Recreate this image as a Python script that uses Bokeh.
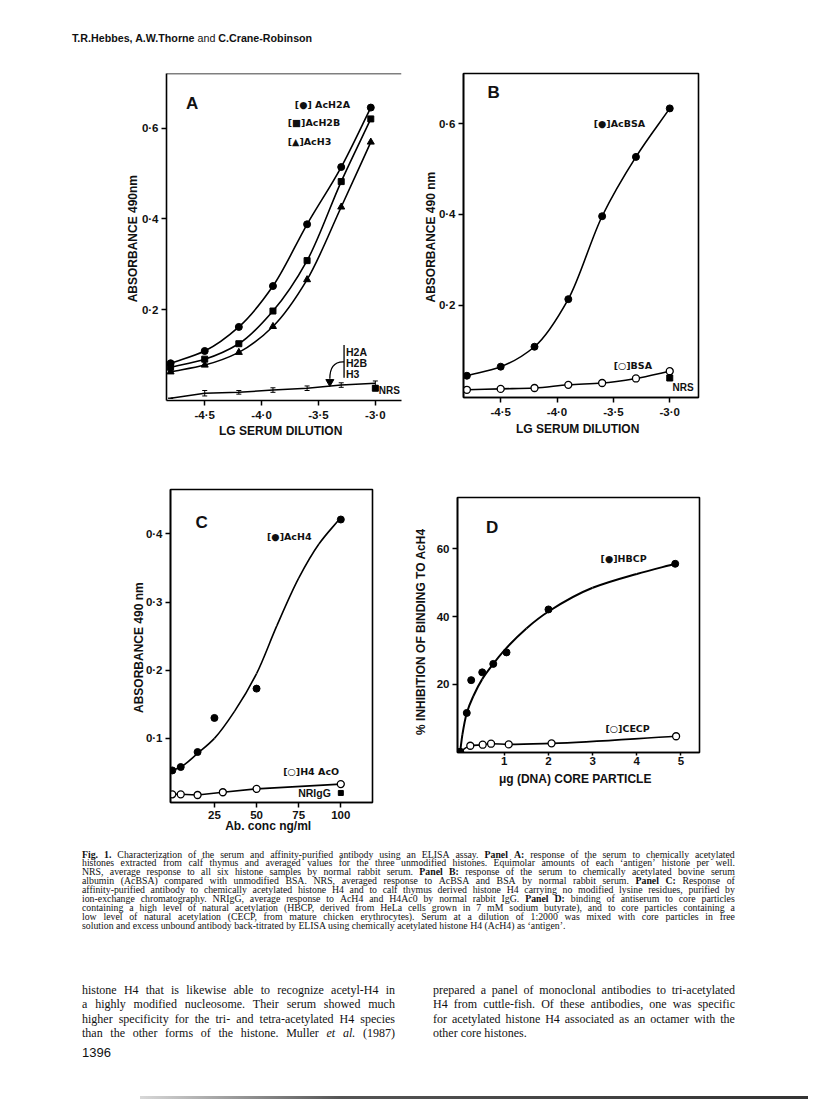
import numpy as np
from html import escape
from bokeh.plotting import figure
from bokeh.models import (FixedTicker, Div, Whisker, TeeHead, ColumnDataSource,
                          Span, CustomJSTickFormatter, Spacer)
from bokeh.layouts import column, row
from bokeh.embed import file_html
from bokeh.resources import INLINE
from bokeh.core.properties import value

FONT = "Liberation Sans"
SYMFONT = "DejaVu Sans"

# ---------------- Panel A : ELISA, serum vs acetylated histones ----------------
a_dilution = [-4.8, -4.5, -4.2, -3.9, -3.6, -3.3, -3.04]
a_ach2a = [0.082, 0.109, 0.162, 0.252, 0.388, 0.514, 0.645]
a_ach2b = [0.073, 0.091, 0.125, 0.197, 0.308, 0.482, 0.620]
a_ach3 = [0.063, 0.078, 0.106, 0.163, 0.266, 0.426, 0.569]
a_unmod_dilution = [-4.8, -4.5, -4.2, -3.9, -3.6, -3.3, -3.0]
a_unmod = [0.005, 0.016, 0.018, 0.023, 0.027, 0.034, 0.038]
a_unmod_err = [0.0, 0.006, 0.004, 0.005, 0.005, 0.005, 0.005]
a_nrs_x = [-3.0]
a_nrs_y = [0.027]
a_xticks = [-4.5, -4.0, -3.5, -3.0]
a_yticks = [0.2, 0.4, 0.6]
a_series_labels = ["[●] AcH2A", "[■]AcH2B", "[▲]AcH3"]
a_unmod_labels = ["H2A", "H2B", "H3"]

# ---------------- Panel B : serum vs acetylated BSA ----------------
b_dilution = [-4.8, -4.5, -4.2, -3.9, -3.6, -3.3, -3.0]
b_acbsa = [0.044, 0.064, 0.108, 0.213, 0.396, 0.527, 0.634]
b_bsa = [0.013, 0.015, 0.017, 0.024, 0.028, 0.038, 0.054]
b_nrs_x = [-3.0]
b_nrs_y = [0.039]
b_xticks = [-4.5, -4.0, -3.5, -3.0]
b_yticks = [0.2, 0.4, 0.6]

# ---------------- Panel C : affinity-purified antibody ----------------
c_conc = [0, 5, 15, 25, 50, 100]
c_ach4 = [0.053, 0.058, 0.080, 0.130, 0.173, 0.421]
c_fit_conc = [0, 5, 15, 25, 37, 50, 62, 75, 87, 99]
c_fit_ach4 = [0.053, 0.058, 0.078, 0.100, 0.140, 0.195, 0.265, 0.335, 0.385, 0.421]
c_h4_conc = [0, 5, 15, 30, 50, 100]
c_h4ac0 = [0.018, 0.018, 0.017, 0.021, 0.026, 0.033]
c_nrigg_x = [100]
c_nrigg_y = [0.020]
c_xticks = [25, 50, 75, 100]
c_yticks = [0.1, 0.2, 0.3, 0.4]

# ---------------- Panel D : inhibition by core particles ----------------
d_dna = [0, 0.15, 0.25, 0.5, 0.75, 1.05, 2.0, 4.87]
d_hbcp = [0, 11.5, 21.2, 23.5, 26.0, 29.4, 42.1, 55.6]
d_fit_dna = [0, 0.05, 0.15, 0.3, 0.5, 0.75, 1.0, 1.5, 2.0, 3.0, 4.0, 4.87]
d_fit_hbcp = [0, 5.0, 11.5, 16.5, 21.5, 26.0, 30.0, 36.5, 41.5, 48.5, 52.6, 55.6]
d_cecp_dna = [0, 0.23, 0.51, 0.70, 1.1, 2.07, 4.89]
d_cecp = [0, 1.8, 2.1, 2.4, 2.2, 2.5, 4.6]
d_xticks = [1, 2, 3, 4, 5]
d_yticks = [20, 40, 60]


def smooth(p, xs, ys, **kw):
    """Draw a smooth curve through the given knots with Bokeh bezier segments."""
    xs = np.asarray(xs, float)
    ys = np.asarray(ys, float)
    h = np.diff(xs)
    d = np.diff(ys) / h
    n = len(xs)
    m = np.zeros(n)
    m[0], m[-1] = d[0], d[-1]
    for i in range(1, n - 1):
        if d[i - 1] * d[i] <= 0:
            m[i] = 0.0
        else:
            w1 = 2 * h[i] + h[i - 1]
            w2 = h[i] + 2 * h[i - 1]
            m[i] = (w1 + w2) / (w1 / d[i - 1] + w2 / d[i])
    p.bezier(x0=xs[:-1], y0=ys[:-1], x1=xs[1:], y1=ys[1:],
             cx0=xs[:-1] + h / 3, cy0=ys[:-1] + m[:-1] * h / 3,
             cx1=xs[1:] - h / 3, cy1=ys[1:] - m[1:] * h / 3,
             line_color="black", **kw)


DOT = CustomJSTickFormatter(code="return tick.toFixed(1).replace('.', '\u00b7');")


def make_fig(xr, yr, fw, fh, bl, br, bt, bb, xticks, yticks, xlabel, ylabel,
             xdot=False, ydot=False, outline=True, xstand=0, ystand=0,
             xlabel_size="12px", ylabel_size="12px"):
    p = figure(title=None, x_range=xr, y_range=yr, frame_width=fw, frame_height=fh,
               min_border_left=bl, min_border_right=br, min_border_top=bt,
               min_border_bottom=bb, output_backend="svg", toolbar_location=None,
               background_fill_color="white", border_fill_color="white")
    p.grid.visible = False
    if outline:
        p.outline_line_color = "black"
        p.outline_line_width = 1.6
        p.outline_line_alpha = 1.0
    else:
        p.outline_line_color = None
    p.xaxis.ticker = FixedTicker(ticks=xticks)
    p.yaxis.ticker = FixedTicker(ticks=yticks)
    if xdot:
        p.xaxis.formatter = DOT
    if ydot:
        p.yaxis.formatter = DOT
    for ax in (p.xaxis[0], p.yaxis[0]):
        ax.axis_line_width = 1.6
        ax.major_tick_in = 0
        ax.major_tick_out = 5
        ax.major_tick_line_width = 1.5
        ax.minor_tick_line_color = None
        ax.major_label_text_font = FONT
        ax.major_label_text_font_style = "bold"
        ax.major_label_text_font_size = "11.5px"
        ax.major_label_text_color = "#111"
        ax.major_label_standoff = 3
        ax.axis_label_text_font = FONT
        ax.axis_label_text_font_style = "bold"
        ax.axis_label_text_color = "#111"
    p.xaxis.axis_label_text_font_size = xlabel_size
    p.yaxis.axis_label_text_font_size = ylabel_size
    p.xaxis.axis_label = xlabel
    p.yaxis.axis_label = ylabel
    p.xaxis.axis_label_standoff = xstand
    p.yaxis.axis_label_standoff = ystand
    return p


def label(p, x, y, txt, size="10.5px", align="left", font=FONT):
    p.text(x=[x], y=[y], text=[txt], text_font=value(font), text_font_style="bold",
           text_font_size=size, text_baseline="middle", text_align=align, text_color="#111")


def symlabel(p, x, y, txt):
    label(p, x, y, txt, size="9.5px", font=SYMFONT)


# ---------------- Panel A figure ----------------
pa = make_fig((-4.836, -2.77), (0.0, 0.72), 235, 327, 166, 7, 16, 79,
              a_xticks, a_yticks, "LG  SERUM  DILUTION", "ABSORBANCE  490nm",
              xdot=True, ydot=True, outline=False, xstand=0, ystand=-1)
pa.add_layout(Span(location=0.72, dimension="width", line_color="black", line_width=1.6))
smooth(pa, a_dilution, a_ach2a, line_width=1.6)
smooth(pa, a_dilution, a_ach2b, line_width=1.6)
smooth(pa, a_dilution, a_ach3, line_width=1.6)
pa.scatter(a_dilution, a_ach2a, marker="circle", size=7, color="black")
pa.scatter(a_dilution, a_ach2b, marker="square", size=6, color="black")
pa.scatter(a_dilution, a_ach3, marker="triangle", size=7, color="black")
pa.line(a_unmod_dilution, a_unmod, line_color="black", line_width=1.6)
src_err = ColumnDataSource(dict(
    x=a_unmod_dilution,
    upper=[v + e for v, e in zip(a_unmod, a_unmod_err)],
    lower=[v - e for v, e in zip(a_unmod, a_unmod_err)]))
pa.add_layout(Whisker(source=src_err, base="x", upper="upper", lower="lower",
                      line_color="black", line_width=1,
                      upper_head=TeeHead(size=5, line_width=1, line_color="black"),
                      lower_head=TeeHead(size=5, line_width=1, line_color="black")))
pa.scatter(a_nrs_x, a_nrs_y, marker="square", size=6, color="black")
label(pa, -2.969, 0.022, "NRS", size="10px")
label(pa, -4.664, 0.654, "A", size="17px")
symlabel(pa, -3.708, 0.652, a_series_labels[0])
symlabel(pa, -3.77, 0.612, a_series_labels[1])
symlabel(pa, -3.77, 0.571, a_series_labels[2])
# bracket + arrow for the unmodified histones
pa.segment(x0=[-3.275], y0=[0.122], x1=[-3.275], y1=[0.050], line_color="black", line_width=1.3)
for txt, yy in zip(a_unmod_labels, [0.107, 0.082, 0.058]):
    label(pa, -3.258, yy, txt)
pa.bezier(x0=[-3.275], y0=[0.085], cx0=[-3.37], cy0=[0.086], cx1=[-3.40], cy1=[0.070],
          x1=[-3.40], y1=[0.048], line_color="black", line_width=1.3)
pa.scatter([-3.40], [0.041], marker="inverted_triangle", size=8, color="black")

# ---------------- Panel B figure ----------------
pb = make_fig((-4.83, -2.745), (-0.004, 0.711), 235, 324, 55, 10, 17, 81,
              b_xticks, b_yticks, "LG  SERUM  DILUTION", "ABSORBANCE  490 nm",
              xdot=True, ydot=True, xstand=1, ystand=-2)
smooth(pb, b_dilution, b_acbsa, line_width=1.6)
smooth(pb, b_dilution, b_bsa, line_width=1.6)
pb.scatter(b_dilution, b_acbsa, marker="circle", size=7, color="black")
pb.scatter(b_dilution, b_bsa, marker="circle", size=7, fill_color="white",
           line_color="black", line_width=1.3)
pb.scatter(b_nrs_x, b_nrs_y, marker="square", size=6, color="black")
label(pb, -4.618, 0.6696, "B", size="17px")
symlabel(pb, -3.675, 0.601, "[●]AcBSA")
symlabel(pb, -3.498, 0.066, "[○]BSA")
label(pb, -2.976, 0.018, "NRS", size="10px")

# ---------------- Panel C figure ----------------
pc = make_fig((-1.07, 118.8), (0.006, 0.465), 202, 313, 170, 35, 11, 44,
              c_xticks, c_yticks, "Ab. conc   ng/ml", "ABSORBANCE  490 nm",
              ydot=True, xstand=-3, ystand=-3)
smooth(pc, c_fit_conc, c_fit_ach4, line_width=1.6)
pc.scatter(c_conc, c_ach4, marker="circle", size=7, color="black")
pc.line(c_h4_conc, c_h4ac0, line_color="black", line_width=1.6)
pc.scatter(c_h4_conc, c_h4ac0, marker="circle", size=7, fill_color="white",
           line_color="black", line_width=1.3)
pc.scatter(c_nrigg_x, c_nrigg_y, marker="square", size=5, color="black")
label(pc, 13.7, 0.417, "C", size="17px")
symlabel(pc, 56.2, 0.396, "[●]AcH4")
symlabel(pc, 65.8, 0.0515, "[○]H4 AcO")
label(pc, 74.7, 0.020, "NRIgG")

# ---------------- Panel D figure ----------------
pd_ = make_fig((-0.06, 5.42), (-0.2, 75.2), 242, 255, 50, 20, 11, 94,
               d_xticks, d_yticks, "μg (DNA)  CORE  PARTICLE",
               "% INHIBITION  OF  BINDING  TO  AcH4", xstand=4, ystand=6)
pd_.xaxis.major_tick_out = 3
pd_.xaxis.major_label_standoff = 1
smooth(pd_, d_fit_dna, d_fit_hbcp, line_width=2)
smooth(pd_, d_cecp_dna, d_cecp, line_width=1.6)
pd_.scatter(d_dna, d_hbcp, marker="circle", size=7, color="black")
pd_.scatter(d_cecp_dna[1:], d_cecp[1:], marker="circle", size=7, fill_color="white",
            line_color="black", line_width=1.3)
pd_.scatter(d_cecp_dna[:1], d_cecp[:1], marker="circle", size=7, color="black")
label(pd_, 0.586, 66.4, "D", size="17px")
symlabel(pd_, 3.18, 57.1, "[●]HBCP")
symlabel(pd_, 3.29, 6.85, "[○]CECP")

# ---------------- page texts ----------------
header = Div(width=808, height=56, margin=0, text=(
    '<div style="position:relative;width:808px;height:56px;">'
    '<div style="position:absolute;left:72px;top:32px;white-space:nowrap;'
    'font-family:\'Liberation Sans\';font-size:10.7px;line-height:13px;color:#111;">'
    '<b>T.R.Hebbes, A.W.Thorne</b> and <b>C.Crane-Robinson</b></div></div>'))

caption_lines = [
    "**Fig.** **1.** Characterization of the serum and affinity-purified antibody using an ELISA assay. **Panel** **A:** response of the serum to chemically acetylated",
    "histones extracted from calf thymus and averaged values for the three unmodified histones. Equimolar amounts of each ‘antigen’ histone per well.",
    "NRS, average response to all six histone samples by normal rabbit serum. **Panel** **B:** response of the serum to chemically acetylated bovine serum",
    "albumin (AcBSA) compared with unmodified BSA. NRS, averaged response to AcBSA and BSA by normal rabbit serum. **Panel** **C:** Response of",
    "affinity-purified antibody to chemically acetylated histone H4 and to calf thymus derived histone H4 carrying no modified lysine residues, purified by",
    "ion-exchange chromatography. NRIgG, average response to AcH4 and H4Ac0 by normal rabbit IgG. **Panel** **D:** binding of antiserum to core particles",
    "containing a high level of natural acetylation (HBCP, derived from HeLa cells grown in 7 mM sodium butyrate), and to core particles containing a",
    "low level of natural acetylation (CECP, from mature chicken erythrocytes). Serum at a dilution of 1:2000 was mixed with core particles in free",
    "solution and excess unbound antibody back-titrated by ELISA using chemically acetylated histone H4 (AcH4) as ‘antigen’.",
]
body_left = [
    "histone H4 that is likewise able to recognize acetyl-H4 in",
    "a highly modified nucleosome. Their serum showed much",
    "higher specificity for the tri- and tetra-acetylated H4 species",
    "than the other forms of the histone. Muller _et_ _al._ (1987)",
]
body_right = [
    "prepared a panel of monoclonal antibodies to tri-acetylated",
    "H4 from cuttle-fish. Of these antibodies, one was specific",
    "for acetylated histone H4 associated as an octamer with the",
    "other core histones.",
]
page_number = "1396"


def line_html(txt, left, top, width, size, lh, family, justify=True):
    spans = []
    for t in txt.split(" "):
        st = ""
        if t.startswith("**") and t.endswith("**"):
            t, st = t[2:-2], "font-weight:bold;"
        elif t.startswith("_") and t.endswith("_") and len(t) > 2:
            t, st = t[1:-1], "font-style:italic;"
        spans.append(f'<span style="{st}">{escape(t)}</span>')
    base = (f"position:absolute;left:{left}px;top:{top}px;white-space:nowrap;"
            f"font-family:{family};font-size:{size}px;line-height:{lh}px;color:#111;")
    if justify:
        return (f'<div style="{base}width:{width}px;display:flex;justify-content:space-between;">'
                + "".join(spans) + "</div>")
    return f'<div style="{base}">' + " ".join(spans) + "</div>"


SERIF = "'Liberation Serif'"
FOOT_H = 262
parts = [f'<div style="position:relative;width:808px;height:{FOOT_H}px;">']
for i, ln in enumerate(caption_lines):
    parts.append(line_html(ln, 82, 3.5 + i * 8.9, 653, 9.8, 9, SERIF,
                           justify=(i < len(caption_lines) - 1)))
for i, ln in enumerate(body_left):
    parts.append(line_html(ln, 82, 137 + i * 14.3, 313, 12, 14, SERIF, True))
for i, ln in enumerate(body_right):
    parts.append(line_html(ln, 433, 137 + i * 14.3, 302, 12, 14, SERIF,
                           justify=(i < len(body_right) - 1)))
parts.append('<div style="position:absolute;left:82px;top:200px;font-family:\'Liberation Sans\';'
             f'font-size:13px;line-height:14px;color:#111;">{page_number}</div>')
parts.append('<div style="position:absolute;left:140px;top:250px;width:668px;height:3px;'
             'background:linear-gradient(to right,#d8d8d8,#555 30%,#333);"></div>')
parts.append("</div>")
footer = Div(width=808, height=FOOT_H, margin=0, text="".join(parts))

# panel D sits 8px lower than panel C in the reference
d_block = column(Spacer(width=312, height=8, margin=0), pd_)

layout = column(header, row(pa, pb), row(pc, d_block), footer)

open("out.html", "w").write(file_html(layout, INLINE))
